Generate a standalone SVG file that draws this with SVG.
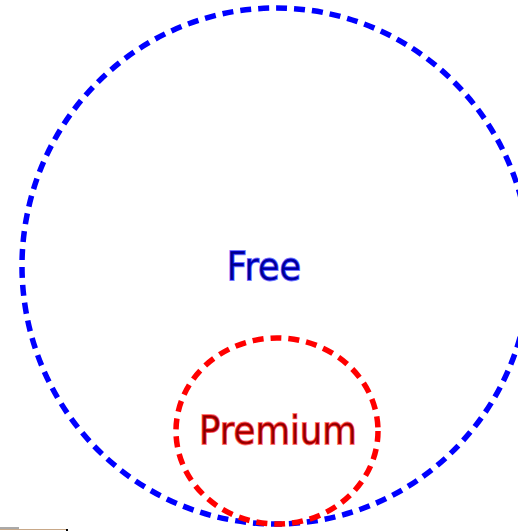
<svg xmlns="http://www.w3.org/2000/svg" width="518" height="531" viewBox="0 0 518 531">
<style>
.ring{fill:none;stroke-width:5.5;stroke-dasharray:11 7}
.lbl{font-family:"DejaVu Sans",Verdana,sans-serif;text-anchor:middle;stroke-width:1.6;stroke-opacity:0.55}
</style>
<rect width="518" height="531" fill="#ffffff"/>
<g id="free">
<ellipse class="ring" cx="276" cy="266" rx="254" ry="258" stroke="#0000ff"/>
<text class="lbl" x="264" y="280" font-size="35" fill="#000080" stroke="#0000ff" transform="translate(0,-28) scale(1,1.1)">Free</text>
</g>
<g id="premium">
<ellipse class="ring" cx="277" cy="431" rx="101" ry="93" stroke="#ff0000"/>
<text class="lbl" x="278" y="444" font-size="35.5" fill="#800000" stroke="#ff0000" transform="translate(0,-44) scale(1,1.1)">Premium</text>
</g>
<g id="connectors"></g>
<g id="edge">
<line x1="0" y1="528" x2="19" y2="528" stroke="#555555" stroke-width="1"/>
<line x1="0" y1="529.5" x2="66" y2="529.5" stroke="#c8a888" stroke-width="1"/>
<rect x="66" y="529" width="2" height="2" fill="#000000"/>
</g>
</svg>
